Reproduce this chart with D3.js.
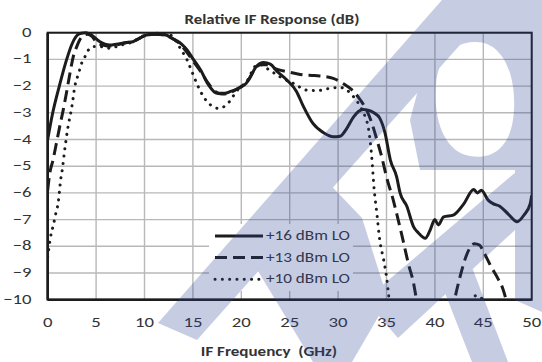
<!DOCTYPE html>
<html>
<head>
<meta charset="utf-8">
<script src="https://cdn.jsdelivr.net/npm/d3@7"></script>
<style>
  html, body { margin: 0; padding: 0; background: #ffffff; }
  svg { display: block; }
  text { font-family: Carlito, Lato, "Open Sans", sans-serif; fill: #333333; }
</style>
</head>
<body>
<svg id="chart" width="542" height="362"></svg>
<script>
// Frequency axis ticks (GHz) and response axis ticks (dB)
const xTicks = [0, 5, 10, 15, 20, 25, 30, 35, 40, 45, 50];
const yTicks = [0, -1, -2, -3, -4, -5, -6, -7, -8, -9, -10];

// +16 dBm LO
const lo16Freq = [0, 0.52, 1.2, 1.96, 2.48, 2.92, 3.34, 3.96, 4.5, 5.4, 6.4, 7.1, 8.1, 8.8, 9.5, 10.2, 11.2, 12.2, 12.9, 13.8, 14.4, 15.05, 15.8, 16.6, 17.5, 18.3, 18.9, 19.8, 20.5, 21.0, 21.6, 22.3, 23.0, 23.7, 24.7, 25.7, 26.4, 27.4, 28.5, 29.5, 30.2, 30.9, 31.6, 32.1, 32.6, 33.1, 33.7, 34.3, 34.85, 35.4, 36.05, 36.4, 37.1, 37.8, 38.3, 39.0, 39.5, 40.0, 40.35, 40.9, 41.9, 43.0, 44.0, 44.4, 44.8, 45.5, 46.0, 46.7, 47.6, 48.5, 49.2, 49.85, 50];
const lo16Db = [-4.0, -3.0, -2.0, -1.0, -0.45, -0.15, -0.03, 0.0, -0.08, -0.34, -0.46, -0.43, -0.37, -0.34, -0.2, -0.09, -0.06, -0.09, -0.22, -0.42, -0.65, -1.0, -1.4, -1.95, -2.27, -2.27, -2.2, -2.07, -1.9, -1.6, -1.25, -1.12, -1.18, -1.45, -1.77, -2.2, -2.75, -3.4, -3.75, -3.9, -3.88, -3.58, -3.15, -2.95, -2.88, -2.9, -3.0, -3.2, -3.76, -4.77, -5.4, -6.0, -6.5, -7.27, -7.5, -7.7, -7.4, -7.0, -7.2, -6.9, -6.83, -6.4, -5.87, -6.0, -5.9, -6.27, -6.4, -6.5, -6.8, -7.08, -6.83, -6.4, -6.1];

// +13 dBm LO
const lo13Freq = [0, 0.2, 0.55, 0.9, 1.25, 1.6, 1.93, 2.3, 2.6, 3.0, 3.3, 3.8, 4.1, 4.6, 5.1, 5.8, 6.5, 7.2, 8.1, 9.0, 10.0, 11.0, 12.0, 12.8, 13.6, 14.3, 15.0, 15.8, 16.5, 17.3, 18.0, 18.8, 19.5, 20.2, 20.8, 21.4, 22.0, 22.6, 23.2, 24.0, 24.7, 25.5, 26.4, 27.3, 28.1, 29.5, 30.5, 31.6, 32.3, 32.95, 33.5, 34.0, 34.5, 35.0, 35.7, 36.2, 36.7, 37.25, 37.8, 38.1, 38.5, 41.7, 42.1, 42.6, 43.1, 43.6, 44.1, 44.6, 45.1, 45.8, 46.5, 47.0, 47.35, 47.7];
const lo13Db = [-5.9, -5.3, -4.77, -4.14, -3.5, -2.9, -2.27, -1.52, -0.96, -0.52, -0.27, -0.09, -0.06, -0.15, -0.38, -0.47, -0.5, -0.45, -0.38, -0.3, -0.12, -0.06, -0.08, -0.2, -0.4, -0.7, -1.05, -1.45, -1.85, -2.2, -2.3, -2.25, -2.12, -1.95, -1.75, -1.35, -1.2, -1.2, -1.3, -1.4, -1.46, -1.52, -1.58, -1.6, -1.62, -1.71, -1.9, -2.2, -2.52, -2.9, -3.4, -4.0, -4.64, -5.4, -6.27, -7.0, -7.76, -8.64, -9.39, -10.0, -10.7, -10.7, -9.9, -9.14, -8.5, -8.07, -7.9, -7.95, -8.26, -8.76, -9.2, -9.57, -10.0, -10.6];

// +10 dBm LO
const lo10Freq = [0, 0.24, 0.4, 0.6, 0.75, 0.93, 1.1, 1.2, 1.34, 1.45, 1.8, 2.1, 2.5, 2.8, 3.2, 3.5, 3.85, 4.2, 4.7, 5.4, 6.4, 7.5, 8.5, 9.5, 10.3, 11.5, 12.5, 13.15, 13.8, 14.4, 14.9, 15.4, 16.1, 16.8, 17.6, 18.5, 19.0, 19.6, 20.2, 20.7, 21.4, 22.0, 22.6, 24.0, 25.4, 26.75, 27.8, 29.2, 30.2, 30.9, 31.6, 32.3, 32.8, 33.1, 33.3, 33.5, 33.7, 34.0, 34.3, 34.7, 35.0, 35.2, 35.4, 43.6, 44.2, 44.7, 45.3];
const lo10Db = [-8.4, -7.77, -7.45, -7.2, -6.9, -6.64, -6.33, -6.0, -5.5, -5.27, -4.27, -3.52, -2.77, -2.02, -1.52, -1.15, -0.9, -0.65, -0.52, -0.52, -0.58, -0.47, -0.38, -0.2, -0.05, -0.02, -0.05, -0.27, -0.65, -1.02, -1.46, -1.9, -2.4, -2.7, -2.83, -2.7, -2.46, -2.15, -1.95, -1.75, -1.27, -1.2, -1.33, -1.65, -1.9, -2.15, -2.17, -2.08, -2.05, -2.15, -2.4, -2.77, -3.15, -3.52, -4.02, -4.77, -5.77, -6.76, -7.76, -8.5, -9.14, -9.76, -10.4, -10.4, -9.85, -9.9, -10.4];

const seriesNames = ["+16 dBm LO", "+13 dBm LO", "+10 dBm LO"];

const series = [
  { name: seriesNames[0], freq: lo16Freq, db: lo16Db, dash: null, cap: "butt" },
  { name: seriesNames[1], freq: lo13Freq, db: lo13Db, dash: "12,6", cap: "butt" },
  { name: seriesNames[2], freq: lo10Freq, db: lo10Db, dash: "0.1,7.2", cap: "round" }
];

const svg = d3.select("#chart");
const W = 542, H = 362;
const margin = { left: 47.7, top: 32.7, right: W - 531.7, bottom: H - 299.7 };
const pw = W - margin.left - margin.right;
const ph = H - margin.top - margin.bottom;

const x = d3.scaleLinear().domain([0, 50]).range([margin.left, margin.left + pw]);
const y = d3.scaleLinear().domain([-10, 0]).range([margin.top + ph, margin.top]);

const INK = "#1c1c1c";

// text drawn slightly wide, as in the printed datasheet plot
function wideText(sel, px, py, str, opts) {
  const t = sel.append("text")
    .attr("transform", `translate(${px},${py}) scale(${opts.stretch || 1.22},1)`)
    .attr("text-anchor", opts.anchor || "middle")
    .attr("font-size", opts.size)
    .attr("font-weight", opts.weight || "normal")
    .text(str);
  if (opts.baseline) t.attr("dominant-baseline", opts.baseline);
  return t;
}

// grid
const grid = svg.append("g").attr("stroke", "#b8b8b8").attr("stroke-width", 1.4);
grid.selectAll("line.v").data(xTicks).join("line")
  .attr("x1", d => x(d)).attr("x2", d => x(d))
  .attr("y1", y(0)).attr("y2", y(-10));
grid.selectAll("line.h").data(yTicks).join("line")
  .attr("x1", x(0)).attr("x2", x(50))
  .attr("y1", d => y(d)).attr("y2", d => y(d));

// data lines, clipped to the plot area
svg.append("clipPath").attr("id", "plotClip")
  .append("rect").attr("x", x(0)).attr("y", y(0) - 2)
  .attr("width", pw).attr("height", ph + 2);

const line = d3.line().curve(d3.curveMonotoneX);
const lines = svg.append("g").attr("clip-path", "url(#plotClip)");
series.forEach(s => {
  const pts = s.freq.map((f, i) => [x(f), y(s.db[i])]);
  lines.append("path")
    .attr("d", line(pts))
    .attr("fill", "none")
    .attr("stroke", INK)
    .attr("stroke-width", 3)
    .attr("stroke-linejoin", "round")
    .attr("stroke-linecap", s.cap)
    .attr("stroke-dasharray", s.dash);
});

// plot frame
svg.append("rect")
  .attr("x", x(0)).attr("y", y(0)).attr("width", pw).attr("height", ph)
  .attr("fill", "none").attr("stroke", INK).attr("stroke-width", 2);
svg.append("line").attr("x1", x(0)).attr("x2", x(0)).attr("y1", y(0)).attr("y2", y(-10))
  .attr("stroke", INK).attr("stroke-width", 2.6);
svg.append("line").attr("x1", x(0)).attr("x2", x(50)).attr("y1", y(-10)).attr("y2", y(-10))
  .attr("stroke", INK).attr("stroke-width", 2.6);

// axis tick labels, placed by the scales
const fmt = d3.format("d");
yTicks.forEach(v => wideText(svg, 31.5, y(v) + 0.5, fmt(v), { anchor: "end", size: 15, baseline: "middle", stretch: 1.25 }));
xTicks.forEach(v => wideText(svg, x(v), 327, fmt(v), { size: 15, stretch: 1.25 }));

// titles
wideText(svg, 272, 24, "Relative IF Response (dB)", { size: 14, weight: "bold", stretch: 1.2 });
wideText(svg, 269, 355.5, "IF Frequency  (GHz)", { size: 14.2, weight: "bold", stretch: 1.2 }).attr("xml:space", "preserve");

// legend
const lg = svg.append("g");
lg.append("rect").attr("x", 209).attr("y", 224).attr("width", 144).attr("height", 67).attr("fill", "#ffffff");
series.forEach((s, i) => {
  const ly = 236 + i * 21.6;
  lg.append("line")
    .attr("x1", 215).attr("x2", 263).attr("y1", ly).attr("y2", ly)
    .attr("stroke", INK).attr("stroke-width", 3)
    .attr("stroke-linecap", s.cap)
    .attr("stroke-dasharray", s.dash);
  wideText(lg, 266, ly + 0.5, s.name, { anchor: "start", size: 14.3, baseline: "middle", stretch: 1.2 });
});

// faint logo watermark laid over the chart
const wm = svg.append("g").attr("opacity", 0.27).attr("fill", "#2f4596").attr("pointer-events", "none");
wm.append("path").attr("d", "M158,323 L197,340 L500,0 L442,0 Z");
wm.append("path").attr("fill-rule", "evenodd")
  .attr("d", "M442,0 L542,0 L542,170 L420,170 L410,120 Z " +
             "M474,42 C500,40 516,70 514,110 C512,150 490,160 470,156 C445,152 433,120 436,85 C438,58 452,43 474,42 Z");
wm.append("path").attr("d", "M515,160 L542,160 L542,312 L515,300 Z");
wm.append("path").attr("d", "M542,150 L542,205 L398,338 L365,300 Z");
wm.append("path").attr("d", "M440,280 L470,262 L508,362 L472,362 Z");
wm.append("path").attr("d", "M250,258 L318,172 L362,218 L388,300 L352,362 L313,362 Z");
</script>
</body>
</html>
